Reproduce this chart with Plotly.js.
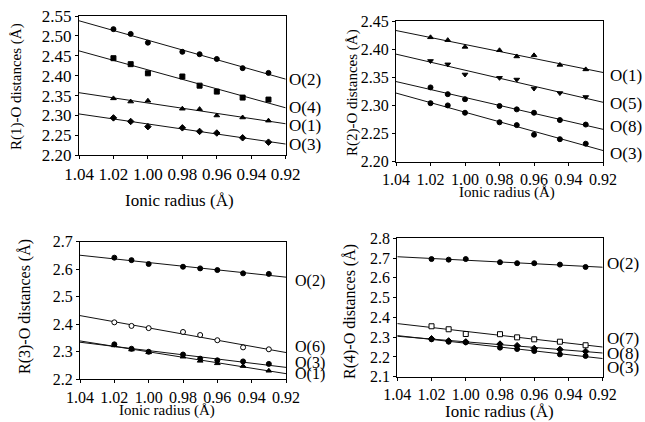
<!DOCTYPE html>
<html>
<head>
<meta charset="utf-8">
<script src="https://cdn.plot.ly/plotly-3.0.1.min.js"></script>
<style>html,body{margin:0;padding:0;background:#fff;}#chart{width:645px;height:422px;}</style>
</head>
<body>
<div id="chart"></div>
<script>
// ---- data ----
const radius = [1.02, 1.01, 1.00, 0.98, 0.97, 0.96, 0.945, 0.93];
const xTickVals = [1.04, 1.02, 1.00, 0.98, 0.96, 0.94, 0.92];
const xTickText = ['1.04', '1.02', '1.00', '0.98', '0.96', '0.94', '0.92'];

// Panel 1: R(1)-O
const r1_O2 = [2.517, 2.505, 2.483, 2.460, 2.454, 2.442, 2.419, 2.407];
const r1_O4 = [2.444, 2.429, 2.406, 2.398, 2.375, 2.360, 2.345, 2.340];
const r1_O1 = [2.343, 2.335, 2.337, 2.317, 2.316, 2.300, 2.295, 2.287];
const r1_O3 = [2.294, 2.285, 2.272, 2.269, 2.260, 2.256, 2.244, 2.233];
const r1_yTicks = [2.20, 2.25, 2.30, 2.35, 2.40, 2.45, 2.50, 2.55];

// Panel 2: R(2)-O
const r2_O1 = [2.421, 2.416, 2.404, 2.398, 2.387, 2.389, 2.372, 2.364];
const r2_O5 = [2.379, 2.373, 2.355, 2.349, 2.346, 2.330, 2.322, 2.315];
const r2_O8 = [2.332, 2.320, 2.311, 2.299, 2.293, 2.287, 2.274, 2.266];
const r2_O3 = [2.304, 2.300, 2.287, 2.270, 2.265, 2.248, 2.240, 2.232];
const r2_yTicks = [2.20, 2.25, 2.30, 2.35, 2.40, 2.45];

// Panel 3: R(3)-O
const r3_O2 = [2.642, 2.633, 2.619, 2.609, 2.603, 2.597, 2.585, 2.583];
const r3_O6 = [2.407, 2.394, 2.386, 2.372, 2.361, 2.342, 2.316, 2.309];
const r3_O3 = [2.327, 2.311, 2.300, 2.290, 2.275, 2.269, 2.265, 2.256];
const r3_O1 = [2.323, 2.308, 2.298, 2.282, 2.267, 2.258, 2.248, 2.231];
const r3_yTicks = [2.2, 2.3, 2.4, 2.5, 2.6, 2.7];

// Panel 4: R(4)-O
const r4_O2 = [2.695, 2.692, 2.695, 2.679, 2.674, 2.674, 2.667, 2.655];
const r4_O7 = [2.355, 2.340, 2.316, 2.315, 2.299, 2.289, 2.277, 2.259];
const r4_O8 = [2.292, 2.281, 2.276, 2.265, 2.257, 2.243, 2.238, 2.228];
const r4_O3 = [2.289, 2.277, 2.274, 2.247, 2.240, 2.230, 2.213, 2.205];
const r4_yTicks = [2.1, 2.2, 2.3, 2.4, 2.5, 2.6, 2.7, 2.8];

const seriesLabels = {
  p1: ['O(2)', 'O(4)', 'O(1)', 'O(3)'],
  p2: ['O(1)', 'O(5)', 'O(8)', 'O(3)'],
  p3: ['O(2)', 'O(6)', 'O(3)', 'O(1)'],
  p4: ['O(2)', 'O(7)', 'O(8)', 'O(3)']
};

// ---- helpers ----
const W = 645, H = 422;
const px = x => x / W;
const py = y => 1 - y / H;
const FONT = '"Liberation Serif", "Times New Roman", Times, serif';

function fit(xs, ys) {
  const n = xs.length;
  const mx = xs.reduce((a, b) => a + b, 0) / n;
  const my = ys.reduce((a, b) => a + b, 0) / n;
  let sxy = 0, sxx = 0;
  for (let i = 0; i < n; i++) { sxy += (xs[i] - mx) * (ys[i] - my); sxx += (xs[i] - mx) ** 2; }
  const b = sxy / sxx, a = my - b * mx;
  return x => a + b * x;
}

const traces = [];
function addSeries(ys, sym, xa, ya, open) {
  const f = fit(radius, ys);
  const ends = [1.04, 0.92];
  traces.push({
    x: ends, y: ends.map(f), xaxis: xa, yaxis: ya, mode: 'lines',
    line: { color: '#111', width: 1 }, hoverinfo: 'skip', showlegend: false
  });
  traces.push({
    x: radius, y: ys, xaxis: xa, yaxis: ya, mode: 'markers', showlegend: false,
    marker: {
      symbol: sym, size: 5,
      color: open ? '#fff' : '#000',
      line: { color: '#000', width: 1 }
    }
  });
}

addSeries(r1_O2, 'circle', 'x', 'y');
addSeries(r1_O4, 'square', 'x', 'y');
addSeries(r1_O1, 'triangle-up', 'x', 'y');
addSeries(r1_O3, 'diamond', 'x', 'y');

addSeries(r2_O1, 'triangle-up', 'x2', 'y2');
addSeries(r2_O5, 'triangle-down', 'x2', 'y2');
addSeries(r2_O8, 'circle', 'x2', 'y2');
addSeries(r2_O3, 'circle', 'x2', 'y2');

addSeries(r3_O2, 'circle', 'x3', 'y3');
addSeries(r3_O6, 'circle', 'x3', 'y3', true);
addSeries(r3_O3, 'circle', 'x3', 'y3');
addSeries(r3_O1, 'triangle-up', 'x3', 'y3');

addSeries(r4_O2, 'circle', 'x4', 'y4');
addSeries(r4_O7, 'square', 'x4', 'y4', true);
addSeries(r4_O8, 'diamond', 'x4', 'y4');
addSeries(r4_O3, 'circle', 'x4', 'y4');

function xAxis(x0, x1, anchor, fs) {
  return {
    domain: [px(x0), px(x1)], anchor: anchor,
    range: [1.04, 0.92], autorange: false,
    tickvals: xTickVals, ticktext: xTickText,
    showline: true, mirror: true, linecolor: '#000', linewidth: 1,
    ticks: 'outside', ticklen: 3, tickcolor: '#000',
    showgrid: false, zeroline: false,
    tickfont: { family: FONT, size: fs, color: '#000' }
  };
}
function yAxis(y0, y1, anchor, range, ticks, fmt, fs) {
  return {
    domain: [py(y1), py(y0)], anchor: anchor,
    range: range, autorange: false,
    tickvals: ticks, ticktext: ticks.map(v => v.toFixed(fmt)),
    showline: true, mirror: true, linecolor: '#000', linewidth: 1,
    ticks: 'outside', ticklen: 3, tickcolor: '#000',
    showgrid: false, zeroline: false,
    tickfont: { family: FONT, size: fs, color: '#000' }
  };
}

const layout = {
  width: W, height: H,
  margin: { l: 0, r: 0, t: 0, b: 0 },
  paper_bgcolor: '#fff', plot_bgcolor: '#fff',
  showlegend: false,
  font: { family: FONT, color: '#000' },
  xaxis: xAxis(79, 285.7, 'y', 17),
  yaxis: yAxis(16, 155.3, 'x', [2.20, 2.55], r1_yTicks, 2, 17),
  xaxis2: xAxis(396, 603, 'y2', 16),
  yaxis2: yAxis(21, 161.7, 'x2', [2.20, 2.45], r2_yTicks, 2, 16),
  xaxis3: xAxis(80, 286, 'y3', 16),
  yaxis3: yAxis(241.7, 379.3, 'x3', [2.2, 2.7], r3_yTicks, 1, 16),
  xaxis4: xAxis(397.3, 602.7, 'y4', 16),
  yaxis4: yAxis(238.3, 376.7, 'x4', [2.1, 2.8], r4_yTicks, 1, 16),
  annotations: []
};

function ann(text, x, y, size, angle, xanchor) {
  layout.annotations.push({
    text: text, xref: 'paper', yref: 'paper', x: px(x), y: py(y),
    xanchor: xanchor || 'center', yanchor: 'middle', showarrow: false,
    textangle: angle || 0, borderpad: 0,
    font: { family: FONT, size: size, color: '#000' }
  });
}

// axis titles
ann('Ionic radius (Å)', 179, 200, 17);
ann('Ionic radius (Å)', 507, 192, 15);
ann('Ionic radius (Å)', 167, 410, 15);
ann('Ionic radius (Å)', 499, 411, 17);
ann('R(1)-O distances (Å)', 17, 87, 15, -90);
ann('R(2)-O distances (Å)', 352, 93, 15, -90);
ann('R(3)-O distances (Å)', 25, 307, 16, -90);
ann('R(4)-O distances (Å)', 350, 312, 16, -90);

// series labels at the right
const p1y = [80, 107, 125, 144];
const p2y = [76, 103, 127, 153];
const p3y = [281, 347, 363, 374];
const p4y = [263, 338, 353, 367];
seriesLabels.p1.forEach((t, i) => ann(t, 288, p1y[i], 17, 0, 'left'));
seriesLabels.p2.forEach((t, i) => ann(t, 609, p2y[i], 17, 0, 'left'));
seriesLabels.p3.forEach((t, i) => ann(t, 294, p3y[i], 16, 0, 'left'));
seriesLabels.p4.forEach((t, i) => ann(t, 606, p4y[i], 17, 0, 'left'));

Plotly.newPlot('chart', traces, layout, { staticPlot: true, displayModeBar: false });
</script>
</body>
</html>
